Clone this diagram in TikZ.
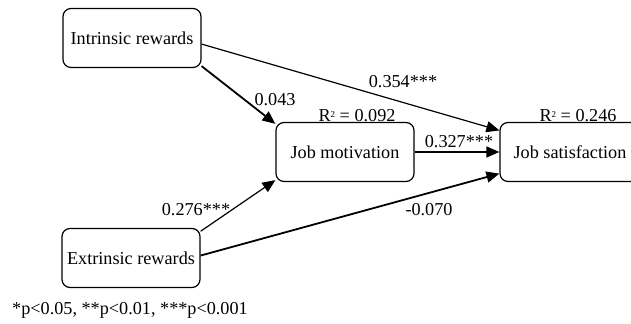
\documentclass[tikz,border=0pt]{standalone}
\usepackage{fontspec}
\setmainfont{Liberation Serif}
\usepackage{tikz}
\usetikzlibrary{arrows.meta,calc}
\tikzset{box/.style={rectangle, draw, rounded corners=4pt, line width=.6pt, minimum width=69pt, minimum height=29.5pt, inner sep=1pt},lbl/.style={inner sep=1pt}}
\tikzset{arr/.style={line width=.6pt, -{Triangle[length=6.5pt,width=5.5pt]}}}
\tikzset{fatedge/.style={line width=.9pt}}
\newcommand{\rsq}{R\raisebox{.55ex}{\fontsize{4.5}{5}\selectfont 2}}

\begin{document}
\begin{tikzpicture}[x=.5pt,y=-.5pt,font=\fontsize{9.1}{11}\selectfont]
  \useasboundingbox (0,0) rectangle (631,324);
  \node[box] (ir) at (132,38) {Intrinsic rewards};
  \node[box] (er) at (131,258) {Extrinsic rewards};
  \node[box] (jm) at (345,152) {Job motivation};
  \node[box, minimum width=70pt] (js) at (570,152) {Job satisfaction};
  \draw[arr] (ir.-5) -- (js.163);
  \draw[arr, fatedge] (ir.-22) -- (jm.158);
  \draw[arr] (er.21) -- (jm.202);
  \draw[arr, fatedge] (er.2) -- (js.197);
  \draw[arr] (jm) -- (js);
  \node[lbl] (l1) at (403,82) {0.354***};
  \node[lbl] (l2) at (275,100) {0.043};
  \node[lbl] (l3) at (459,142) {0.327***};
  \node[lbl] (l4) at (196,210) {0.276***};
  \node[lbl] (l5) at (429,210) {-0.070};
  \node[lbl] (r1) at (357,116) {\rsq{} = 0.092};
  \node[lbl] (r2) at (578,116) {\rsq{} = 0.246};
  \node[lbl] (note) at (130,310) {*p<0.05, **p<0.01, ***p<0.001};
\end{tikzpicture}
\end{document}
